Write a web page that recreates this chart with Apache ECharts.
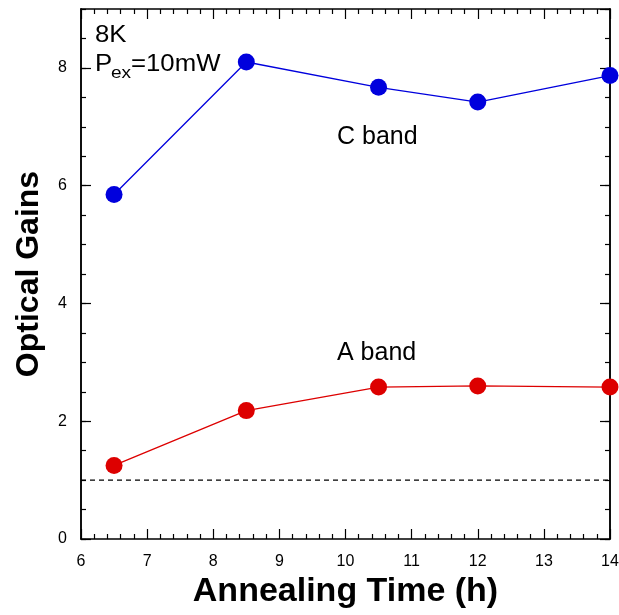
<!DOCTYPE html>
<html>
<head>
<meta charset="utf-8">
<script src="https://cdn.jsdelivr.net/npm/echarts@6/dist/echarts.min.js"></script>
<style>
  html, body { margin: 0; padding: 0; background: #fff; }
  #chart { width: 619px; height: 615px; }
</style>
</head>
<body>
<div id="chart"></div>
<script>
// annealing time (h)
const hours = [6.5, 8.5, 10.5, 12, 14]
// optical gains
const cBand = [5.85, 8.1, 7.67, 7.42, 7.87]
const aBand = [1.25, 2.18, 2.58, 2.6, 2.58]
const threshold = 1
const xRange = [6, 14]
const yRange = [0, 9]

const font = '"Liberation Sans", Arial, sans-serif'
const axisColor = '#000'

const toPairs = (xs, ys) => xs.map((x, i) => [x, ys[i]])

const baseAxis = (extra) => Object.assign({
  type: 'value',
  axisLine: { show: true, onZero: false, lineStyle: { color: axisColor, width: 1.5 } },
  axisTick: { show: true, inside: true, length: 10, lineStyle: { color: axisColor, width: 1.2 } },
  splitLine: { show: false },
  axisLabel: { show: false },
}, extra)

const chart = echarts.init(document.getElementById('chart'))

const option = {
  animation: false,
  backgroundColor: '#fff',
  grid: { left: 81, right: 9, top: 9, bottom: 76, outerBoundsMode: 'none' },
  xAxis: [
    baseAxis({
      position: 'bottom',
      min: xRange[0], max: xRange[1], interval: 1,
      minorTick: { show: true, splitNumber: 5, length: 5, lineStyle: { color: axisColor, width: 1.2 } },
      axisLabel: { show: true, color: '#000', fontSize: 16, fontFamily: font, margin: 15 },
      name: 'Annealing Time (h)',
      nameLocation: 'middle',
      nameGap: 36,
      nameTextStyle: { color: '#000', fontSize: 34, fontWeight: 'bold', fontFamily: font },
    }),
    baseAxis({
      position: 'top',
      min: xRange[0], max: xRange[1], interval: 1,
      minorTick: { show: true, splitNumber: 5, length: 5, lineStyle: { color: axisColor, width: 1.2 } },
    }),
  ],
  yAxis: [
    baseAxis({
      position: 'left',
      min: yRange[0], max: yRange[1], interval: 2,
      axisLabel: { show: true, color: '#000', fontSize: 16, fontFamily: font, margin: 14, showMaxLabel: false },
      name: 'Optical Gains',
      nameLocation: 'middle',
      nameGap: 36,
      nameTextStyle: { color: '#000', fontSize: 32, fontWeight: 'bold', fontFamily: font },
    }),
    baseAxis({
      position: 'left',
      min: yRange[0], max: yRange[1], interval: 0.5,
      axisTick: { show: true, inside: true, length: 5, lineStyle: { color: axisColor, width: 1.2 } },
    }),
    baseAxis({
      position: 'right',
      min: yRange[0], max: yRange[1], interval: 2,
    }),
    baseAxis({
      position: 'right',
      min: yRange[0], max: yRange[1], interval: 0.5,
      axisTick: { show: true, inside: true, length: 5, lineStyle: { color: axisColor, width: 1.2 } },
    }),
  ],
  series: [
    {
      name: 'threshold',
      type: 'line',
      data: [[xRange[0], threshold], [xRange[1], threshold]],
      symbol: 'none',
      lineStyle: { color: '#000', width: 1.2, type: [5, 4] },
      silent: true,
    },
    {
      name: 'C band',
      type: 'line',
      data: toPairs(hours, cBand),
      symbol: 'circle',
      symbolSize: 17,
      itemStyle: { color: '#0000dd' },
      lineStyle: { color: '#0000dd', width: 1.3 },
    },
    {
      name: 'A band',
      type: 'line',
      data: toPairs(hours, aBand),
      symbol: 'circle',
      symbolSize: 17,
      itemStyle: { color: '#dd0000' },
      lineStyle: { color: '#dd0000', width: 1.3 },
    },
  ],
  graphic: [
    {
      type: 'text', x: 95, y: 36, scaleX: 1.12,
      style: { text: '8K', fontSize: 23, fontFamily: font, fill: '#000', verticalAlign: 'middle' },
    },
    {
      type: 'text', x: 95, y: 65, scaleX: 1.12,
      style: { text: 'P', fontSize: 23, fontFamily: font, fill: '#000', verticalAlign: 'middle' },
    },
    {
      type: 'text', x: 111, y: 73, scaleX: 1.12,
      style: { text: 'ex', fontSize: 17, fontFamily: font, fill: '#000', verticalAlign: 'middle' },
    },
    {
      type: 'text', x: 131, y: 65, scaleX: 1.12,
      style: { text: '=10mW', fontSize: 23, fontFamily: font, fill: '#000', verticalAlign: 'middle' },
    },
    {
      type: 'text', x: 337, y: 137,
      style: { text: 'C band', fontSize: 25, fontFamily: font, fill: '#000', verticalAlign: 'middle' },
    },
    {
      type: 'text', x: 337, y: 353,
      style: { text: 'A band', fontSize: 25, fontFamily: font, fill: '#000', verticalAlign: 'middle' },
    },
  ],
}

chart.setOption(option)
</script>
</body>
</html>
